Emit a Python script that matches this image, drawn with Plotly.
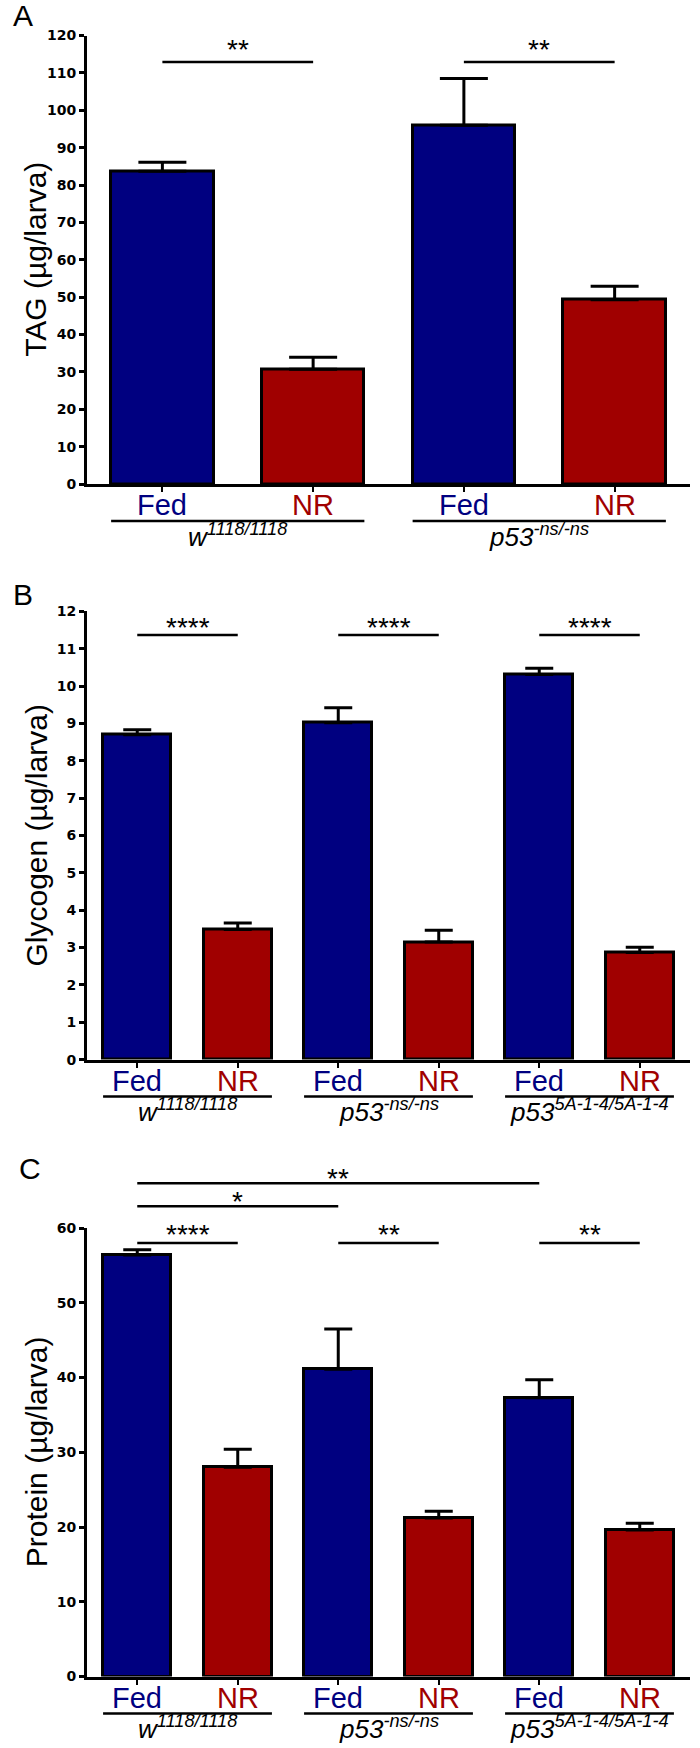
import plotly.graph_objects as go

W, H = 700, 1748

# ---------------- data ----------------
conditions = ["Fed", "NR"]
groups_A = ["<i>w</i><sup><i>1118/1118</i></sup>", "<i>p53</i><sup><i>-ns/-ns</i></sup>"]
groups_BC = ["<i>w</i><sup><i>1118/1118</i></sup>", "<i>p53</i><sup><i>-ns/-ns</i></sup>",
             "<i>p53</i><sup><i>5A-1-4/5A-1-4</i></sup>"]

tag_mean = [83.7, 30.7, 96.0, 49.3]
tag_err = [2.4, 3.2, 12.5, 3.6]

gly_mean = [8.70, 3.48, 9.02, 3.15, 10.31, 2.87]
gly_err = [0.13, 0.18, 0.40, 0.31, 0.17, 0.14]

prot_mean = [56.4, 28.0, 41.1, 21.2, 37.3, 19.6]
prot_err = [0.7, 2.4, 5.4, 0.9, 2.4, 0.9]

# significance: (bar from, bar to, line level, star level, label)
sig_A = [(0, 1, 112.9, 117.0, "**"), (2, 3, 112.9, 117.0, "**")]
sig_B = [(0, 1, 11.37, 11.65, "****"), (2, 3, 11.37, 11.65, "****"), (4, 5, 11.37, 11.65, "****")]
sig_C = [(0, 1, 58.0, 59.5, "****"), (2, 3, 58.0, 59.5, "**"), (4, 5, 58.0, 59.5, "**"),
         (0, 2, 62.9, 63.9, "*"), (0, 4, 66.0, 67.0, "**")]

y_ticks_A = list(range(0, 121, 10))
y_ticks_B = list(range(0, 13, 1))
y_ticks_C = list(range(0, 61, 10))

titles = ["TAG (µg/larva)", "Glycogen (µg/larva)", "Protein (µg/larva)"]
letters = ["A", "B", "C"]

# ---------------- style ----------------
FED_COLOR = "#000080"
NR_COLOR = "#a00000"
BAR_W = 0.68
SANS = "Liberation Sans, Arial, sans-serif"

def px2p(py):
    return 1 - py / H

x_dom = [87 / W, 690 / W]
panels = [
    dict(mean=tag_mean, err=tag_err, sig=sig_A, groups=groups_A, ticks=y_ticks_A,
         rng=[0, 120], dom=[px2p(484), px2p(35.5)], cap=24, letter_y=16, letter_x=23),
    dict(mean=gly_mean, err=gly_err, sig=sig_B, groups=groups_BC, ticks=y_ticks_B,
         rng=[0, 12], dom=[px2p(1059.6), px2p(611.4)], cap=14, letter_y=594, letter_x=23),
    dict(mean=prot_mean, err=prot_err, sig=sig_C, groups=groups_BC, ticks=y_ticks_C,
         rng=[0, 60], dom=[px2p(1676.5), px2p(1228)], cap=14, letter_y=1168, letter_x=30),
]

fig = go.Figure()
shapes = []
annotations = []

for k, p in enumerate(panels):
    n = len(p["mean"])
    xs = list(range(n))
    colors = [FED_COLOR if i % 2 == 0 else NR_COLOR for i in xs]
    sfx = "" if k == 0 else str(k + 1)
    xa, ya = "x" + sfx, "y" + sfx
    fig.add_trace(go.Bar(
        x=xs, y=p["mean"], width=BAR_W, xaxis=xa, yaxis=ya,
        marker=dict(color=colors, line=dict(color="black", width=3)),
        error_y=dict(type="data", array=p["err"], arrayminus=[0] * n, symmetric=False,
                     color="black", thickness=3, width=p["cap"]),
        hoverinfo="skip",
    ))
    fig.layout["xaxis" + sfx] = dict(
        domain=x_dom, anchor=ya, range=[-0.5, n - 0.5], automargin=False,
        showline=True, linewidth=3, linecolor="black", mirror=False,
        ticks="outside", ticklen=5, tickwidth=2, tickcolor="black",
        tickvals=xs, showticklabels=False,
        showgrid=False, zeroline=False, fixedrange=True,
    )
    fig.layout["yaxis" + sfx] = dict(
        domain=p["dom"], anchor=xa, range=p["rng"], automargin=False,
        showline=True, linewidth=3, linecolor="black",
        ticks="outside", ticklen=5, tickwidth=2.5, tickcolor="black",
        tickvals=p["ticks"],
        tickfont=dict(family="DejaVu Sans", size=14, color="black", weight="bold"),
        showgrid=False, zeroline=False, fixedrange=True,
    )
    d0, d1 = p["dom"]
    r0, r1 = p["rng"]

    def yp(v):
        return d0 + (v - r0) / (r1 - r0) * (d1 - d0)

    # condition labels under each bar
    for i in xs:
        annotations.append(dict(xref=xa, yref="paper", x=i, y=d0 - 21 / H,
                                text=conditions[i % 2], showarrow=False, yanchor="middle",
                                font=dict(family=SANS, size=29, color=colors[i])))
    # significance bars and stars
    for (a, b, lvl, slvl, lab) in p["sig"]:
        shapes.append(dict(type="line", xref=xa, yref="paper", x0=a, x1=b,
                           y0=yp(lvl), y1=yp(lvl), line=dict(color="black", width=2.5)))
        annotations.append(dict(xref=xa, yref="paper", x=(a + b) / 2, y=yp(slvl),
                                text=lab, showarrow=False, yanchor="middle", yshift=-3,
                                font=dict(family=SANS, size=28, color="black")))
    # group underlines and labels
    for g, lab in enumerate(p["groups"]):
        a, b = 2 * g, 2 * g + 1
        yline = d0 - 37 / H
        shapes.append(dict(type="line", xref=xa, yref="paper", x0=a - BAR_W / 2, x1=b + BAR_W / 2,
                           y0=yline, y1=yline, line=dict(color="black", width=2.5)))
        annotations.append(dict(xref=xa, yref="paper", x=(a + b) / 2, y=d0 - 51 / H,
                                text=lab, showarrow=False, yanchor="middle",
                                font=dict(family=SANS, size=26, color="black")))
    # axis title
    annotations.append(dict(xref="paper", yref="paper", x=36 / W, y=(d0 + d1) / 2,
                            text=titles[k], textangle=-90, showarrow=False,
                            xanchor="center", yanchor="middle",
                            font=dict(family=SANS, size=30, color="black")))
    # panel letter
    annotations.append(dict(xref="paper", yref="paper", x=p["letter_x"] / W, y=px2p(p["letter_y"]),
                            text=letters[k], showarrow=False, xanchor="center", yanchor="middle",
                            font=dict(family=SANS, size=30, color="black")))

fig.update_layout(
    template="none",
    width=W, height=H, margin=dict(l=0, r=0, t=0, b=0, pad=0, autoexpand=False),
    paper_bgcolor="white", plot_bgcolor="white", showlegend=False,
    shapes=shapes, annotations=annotations, bargap=0,
)

fig.write_html("out.html", config={"displayModeBar": False},
               post_script="document.body.style.margin='0';")
